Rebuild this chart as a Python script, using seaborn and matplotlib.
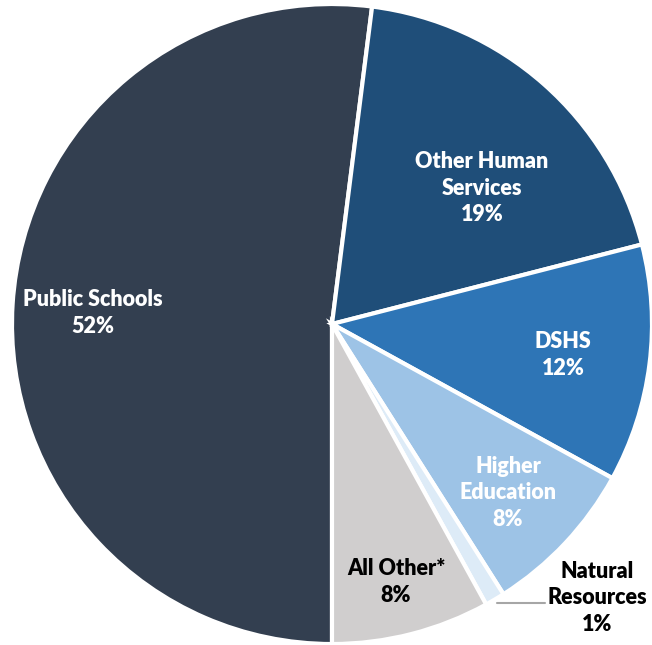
import matplotlib
matplotlib.use("Agg")
import matplotlib.pyplot as plt
import seaborn as sns

categories = ["Public Schools", "Other Human Services", "DSHS", "Higher Education", "Natural Resources", "All Other*"]
values = [52, 19, 12, 8, 1, 8]
display_labels = ["Public Schools\n52%", "Other Human\nServices\n19%", "DSHS\n12%",
                  "Higher\nEducation\n8%", "Natural\nResources\n1%", "All Other*\n8%"]
colors = ["#333F50", "#1F4E79", "#2E75B6", "#9DC3E6", "#DDEBF7", "#D0CECE"]
text_colors = ["white", "white", "white", "white", "black", "black"]
label_pos = [(-0.747, 0.034), (0.469, 0.425), (0.722, -0.097), (0.55, -0.528), (0.828, -0.856), (0.2, -0.806)]

sns.set_style("white")
plt.rcParams['font.family'] = ['Lato', 'DejaVu Sans']

fig = plt.figure(figsize=(6.52, 6.45), dpi=100)
ax = fig.add_axes([0, 0, 1, 1])
ax.pie(values, colors=colors, startangle=270, counterclock=False, radius=1.0,
       wedgeprops=dict(edgecolor="white", linewidth=3))
ax.set_xlim(-1.0375, 1.0)
ax.set_ylim(-1.003, 1.0125)
ax.set_aspect("equal")
ax.axis("off")

for lab, (x, y), c in zip(display_labels, label_pos, text_colors):
    ax.text(x, y, lab, ha="center", va="center", color=c, fontsize=15.5,
            fontweight="heavy", linespacing=1.33)

# leader line for Natural Resources
ax.plot([0.516, 0.666], [-0.872, -0.872], color="#A6A6A6", lw=1.5)

fig.savefig("out.png", dpi=100)
